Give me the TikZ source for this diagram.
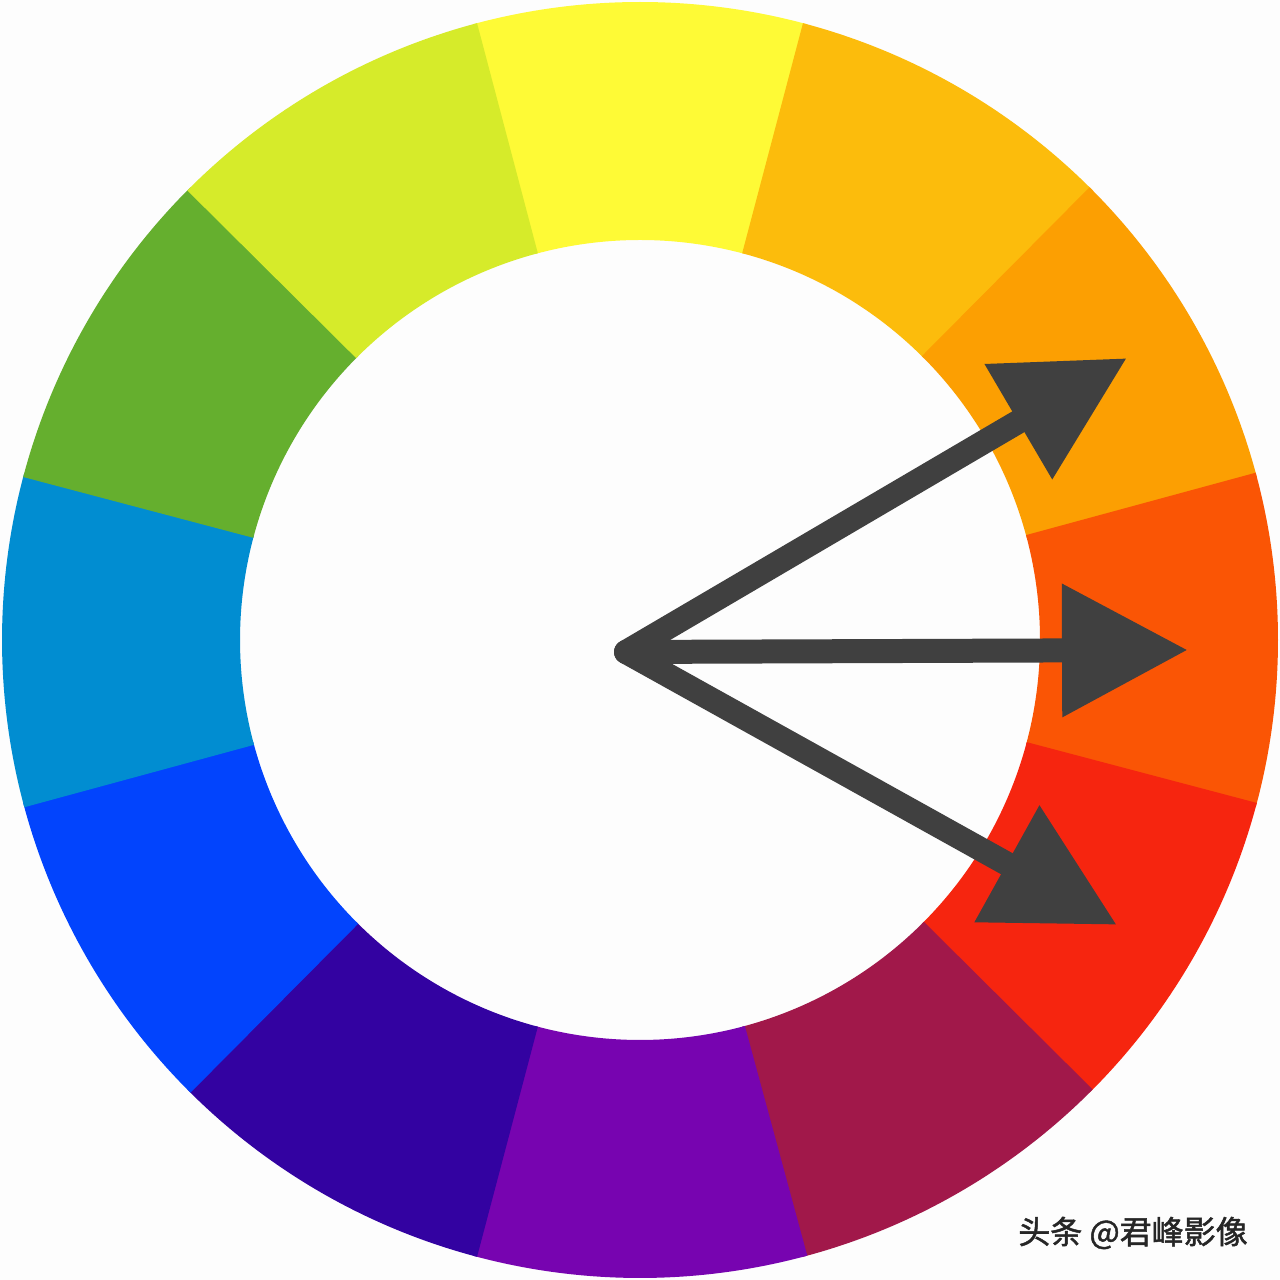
\documentclass[tikz,border=0pt]{standalone}
\usepackage{fontspec}
\newfontfamily\cjk[FakeBold=1.5]{Noto Sans CJK SC}
\usetikzlibrary{arrows.meta}
\definecolor{bgc}{HTML}{FDFDFD}
\definecolor{cY}{HTML}{FEFA36}
\definecolor{cYO}{HTML}{FCBC0C}
\definecolor{cO}{HTML}{FC9F02}
\definecolor{cRO}{HTML}{FA5505}
\definecolor{cR}{HTML}{F6250F}
\definecolor{cRV}{HTML}{A1184A}
\definecolor{cV}{HTML}{7704B0}
\definecolor{cBV}{HTML}{3302A1}
\definecolor{cB}{HTML}{0244FD}
\definecolor{cCB}{HTML}{018DD1}
\definecolor{cG}{HTML}{65AF2E}
\definecolor{cYG}{HTML}{D6EB2A}
\definecolor{arrowc}{HTML}{404040}
\tikzset{
  pointer/.style={draw=arrowc, line width=0.24cm, line cap=round,
    -{Triangle[length=1.26cm,width=1.27cm]}, arrowc},
  mark text/.style={font=\cjk\fontsize{9.1pt}{11pt}\selectfont, text=black!85, inner sep=0pt}
}
\newcommand{\wheelseg}[2]{%
  \fill[#2] ({#1-15.2}:6.38) arc[start angle={#1-15.2}, end angle={#1+15.2}, radius=6.38]
    -- ({#1+15.2}:4.0) arc[start angle={#1+15.2}, end angle={#1-15.2}, radius=4.0] -- cycle;}
\begin{document}
\begin{tikzpicture}
\fill[bgc] (0,0) rectangle (12.8,12.8);
\useasboundingbox (0,0) rectangle (12.8,12.8);
\begin{scope}[shift={(6.4,6.4)}]
  \wheelseg{90}{cY}
  \wheelseg{60}{cYO}
  \wheelseg{30}{cO}
  \wheelseg{0}{cRO}
  \wheelseg{-30}{cR}
  \wheelseg{-60}{cRV}
  \wheelseg{-90}{cV}
  \wheelseg{-120}{cBV}
  \wheelseg{-150}{cB}
  \wheelseg{180}{cCB}
  \wheelseg{150}{cG}
  \wheelseg{120}{cYG}
\end{scope}
\coordinate (c) at (6.26,6.28);
\coordinate (t1) at (11.27,9.22);
\coordinate (t2) at (11.88,6.30);
\coordinate (t3) at (11.17,3.55);
\draw[pointer] (c) -- (t1);
\draw[pointer] (c) -- (t2);
\draw[pointer] (c) -- (t3);
\node[mark text] (wm) at (11.33,0.47) {头条 @君峰影像};
\end{tikzpicture}
\end{document}
